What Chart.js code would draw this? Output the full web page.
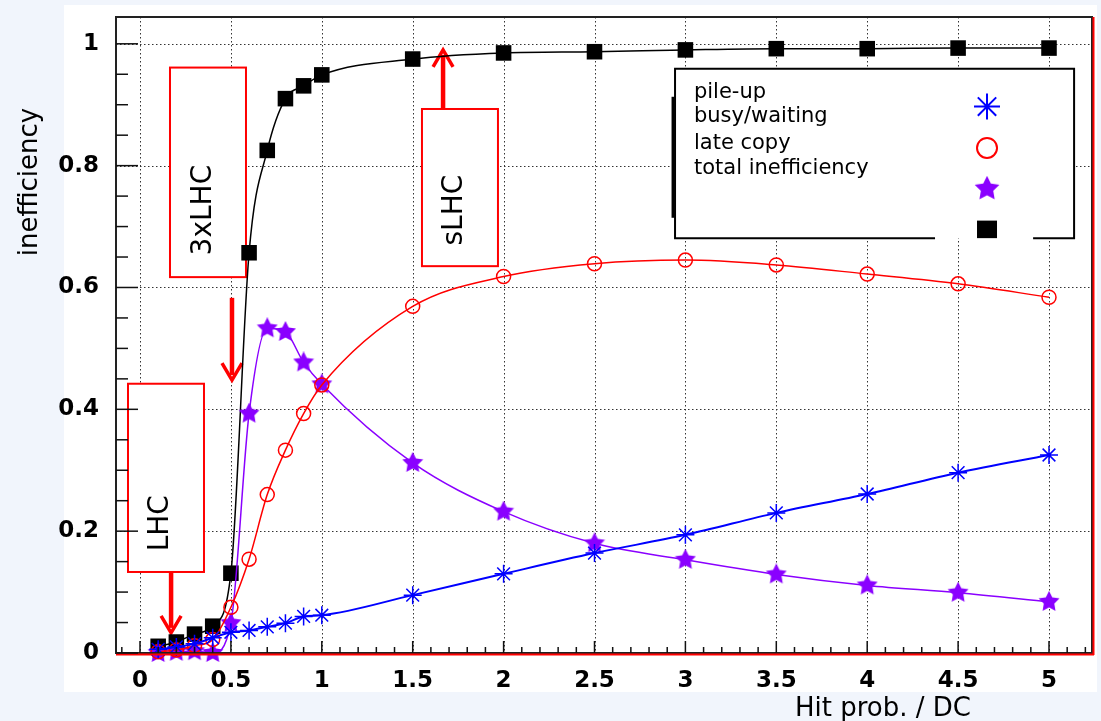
<!DOCTYPE html>
<html lang="en">
<head>
<meta charset="UTF-8">
<title>Inefficiency vs hit probability</title>
<script src="https://cdn.jsdelivr.net/npm/chart.js"></script>
<style>
  html, body { margin: 0; padding: 0; background: #f1f5fc; overflow: hidden; }
  #wrap { width: 1101px; height: 721px; }
</style>
</head>
<body>
<div id="wrap"><canvas id="ineffChart"></canvas></div>
<script>
// values
const hitProb = [0.1, 0.2, 0.3, 0.4, 0.5, 0.6, 0.7, 0.8, 0.9, 1.0, 1.5, 2, 2.5, 3, 3.5, 4, 4.5, 5];
const pileUp = [0.006, 0.010, 0.015, 0.025, 0.034, 0.037, 0.043, 0.049, 0.060, 0.062, 0.095, 0.130, 0.164, 0.194, 0.230, 0.261, 0.296, 0.325];
const busyWaiting = [0.002, 0.005, 0.012, 0.022, 0.075, 0.154, 0.260, 0.333, 0.393, 0.440, 0.569, 0.618, 0.639, 0.645, 0.637, 0.622, 0.606, 0.584];
const lateCopy = [0.0, 0.002, 0.003, 0.0, 0.049, 0.393, 0.533, 0.527, 0.477, 0.441, 0.312, 0.232, 0.180, 0.153, 0.129, 0.111, 0.099, 0.084];
const totalIneff = [0.011, 0.018, 0.031, 0.044, 0.131, 0.657, 0.825, 0.910, 0.931, 0.949, 0.975, 0.985, 0.987, 0.990, 0.992, 0.992, 0.993, 0.993];

const xTicks = [0, 0.5, 1, 1.5, 2, 2.5, 3, 3.5, 4, 4.5, 5];
const yTicks = [0, 0.2, 0.4, 0.6, 0.8, 1];
const legendLabels = ['pile-up', 'busy/waiting', 'late copy', 'total inefficiency'];
const xTitle = 'Hit prob. / DC';
const yTitle = 'inefficiency';

const BLUE = '#0000ff', RED = '#ff0000', PURPLE = '#8a00ff', BLACK = '#000000';

function makeStar(size, color) {
  const c = document.createElement('canvas');
  c.width = c.height = size;
  const g = c.getContext('2d');
  const R = size / 2, r = R * 0.5;
  g.fillStyle = color;
  g.beginPath();
  for (let i = 0; i < 10; i++) {
    const a = -Math.PI / 2 + i * Math.PI / 5;
    const rad = i % 2 ? r : R;
    g.lineTo(R + rad * Math.cos(a), R + rad * Math.sin(a));
  }
  g.closePath();
  g.fill();
  return c;
}
const starImg = makeStar(22, PURPLE);
const starImgBig = makeStar(26, PURPLE);

const pts = (ys) => hitProb.map((x, i) => ({ x: x, y: ys[i] }));

// annotation boxes, in data coordinates
const notes = [
  { label: 'LHC', box: [-0.066, 0.352, 0.442, 0.133], text: [0.154, 0.213], arrow: [0.171, 0.133, 0.033] },
  { label: '3xLHC', box: [0.165, 0.583, 0.961, 0.617], text: [0.391, 0.727], arrow: [0.506, 0.583, 0.448] },
  { label: 'sLHC', box: [1.551, 1.969, 0.893, 0.635], text: [1.771, 0.727], arrow: [1.667, 0.893, 0.990] }
];

const decor = {
  id: 'decor',
  beforeDraw(chart) {
    const ctx = chart.ctx;
    ctx.save();
    ctx.fillStyle = '#f1f5fc';
    ctx.fillRect(0, 0, chart.width, chart.height);
    ctx.fillStyle = '#ffffff';
    ctx.fillRect(64, 5, 1033, 687);
    ctx.restore();
  },
  beforeDatasetsDraw(chart) {
    const ctx = chart.ctx, xs = chart.scales.x, ys = chart.scales.y, a = chart.chartArea;
    ctx.save();
    // dotted grid
    ctx.strokeStyle = '#333';
    ctx.lineWidth = 1;
    ctx.setLineDash([1.5, 2.5]);
    xTicks.forEach(v => {
      const px = Math.round(xs.getPixelForValue(v)) + 0.5;
      ctx.beginPath(); ctx.moveTo(px, a.top); ctx.lineTo(px, a.bottom); ctx.stroke();
    });
    yTicks.forEach(v => {
      if (v === 0) return;
      const py = Math.round(ys.getPixelForValue(v)) + 0.5;
      ctx.beginPath(); ctx.moveTo(a.left, py); ctx.lineTo(a.right, py); ctx.stroke();
    });
    ctx.setLineDash([]);

    // red boxes with arrows
    notes.forEach(n => {
      const x0 = xs.getPixelForValue(n.box[0]), x1 = xs.getPixelForValue(n.box[1]);
      const y0 = ys.getPixelForValue(n.box[2]), y1 = ys.getPixelForValue(n.box[3]);
      ctx.fillStyle = '#fff';
      ctx.fillRect(x0, y0, x1 - x0, y1 - y0);
      ctx.strokeStyle = RED;
      ctx.lineWidth = 2;
      ctx.strokeRect(x0, y0, x1 - x0, y1 - y0);

      ctx.save();
      ctx.translate(xs.getPixelForValue(n.text[0]), ys.getPixelForValue(n.text[1]));
      ctx.rotate(-Math.PI / 2);
      ctx.font = '28px "DejaVu Sans"';
      ctx.fillStyle = '#000';
      ctx.textAlign = 'center';
      ctx.textBaseline = 'alphabetic';
      ctx.fillText(n.label, 0, 0);
      ctx.restore();

      const ax = xs.getPixelForValue(n.arrow[0]);
      const ay0 = ys.getPixelForValue(n.arrow[1]), ay1 = ys.getPixelForValue(n.arrow[2]);
      const dir = ay1 > ay0 ? 1 : -1;
      ctx.strokeStyle = RED;
      ctx.lineWidth = 4.5;
      ctx.beginPath(); ctx.moveTo(ax, ay0); ctx.lineTo(ax, ay1 - dir * 5); ctx.stroke();
      ctx.lineWidth = 3.5;
      ctx.beginPath();
      ctx.moveTo(ax - 10, ay1 - dir * 17);
      ctx.lineTo(ax, ay1);
      ctx.lineTo(ax + 10, ay1 - dir * 17);
      ctx.stroke();
    });
    ctx.restore();
  },
  afterDatasetsDraw(chart) {
    const ctx = chart.ctx, xs = chart.scales.x, ys = chart.scales.y, a = chart.chartArea;
    ctx.save();
    // frame
    ctx.strokeStyle = '#222';
    ctx.lineWidth = 2;
    ctx.strokeRect(a.left, a.top, a.right - a.left - 1, a.bottom - a.top);
    ctx.strokeStyle = RED;
    ctx.lineWidth = 2;
    ctx.beginPath(); ctx.moveTo(a.left, a.bottom + 1.5); ctx.lineTo(a.right + 1, a.bottom + 1.5); ctx.stroke();
    ctx.beginPath(); ctx.moveTo(a.right + 0.5, a.top); ctx.lineTo(a.right + 0.5, a.bottom + 2); ctx.stroke();

    // inside tick marks
    ctx.strokeStyle = '#111';
    ctx.lineWidth = 1.5;
    for (let i = -1; i <= 52; i++) {
      const px = xs.getPixelForValue(i / 10);
      if (px < a.left + 1 || px > a.right - 1) continue;
      const len = i % 5 === 0 ? 12 : 6;
      ctx.beginPath(); ctx.moveTo(px, a.bottom); ctx.lineTo(px, a.bottom - len); ctx.stroke();
    }
    for (let i = 0; i <= 20; i++) {
      const py = ys.getPixelForValue(i / 20);
      const len = i % 4 === 0 ? 22 : 12;
      ctx.beginPath(); ctx.moveTo(a.left, py); ctx.lineTo(a.left + len, py); ctx.stroke();
    }

    // legend
    const lx0 = xs.getPixelForValue(2.943), lx1 = xs.getPixelForValue(5.138);
    const ly0 = ys.getPixelForValue(0.959), ly1 = ys.getPixelForValue(0.681);
    ctx.fillStyle = '#fff';
    ctx.fillRect(lx0, ly0, lx1 - lx0, ly1 - ly0);
    ctx.strokeStyle = '#000';
    ctx.lineWidth = 2;
    ctx.beginPath();
    ctx.moveTo(lx0 + 260, ly1); ctx.lineTo(lx0, ly1); ctx.lineTo(lx0, ly0);
    ctx.lineTo(lx1, ly0); ctx.lineTo(lx1, ly1); ctx.lineTo(lx1 - 41, ly1);
    ctx.stroke();
    ctx.lineWidth = 3;
    ctx.beginPath(); ctx.moveTo(lx0 - 2, ly0 + 28); ctx.lineTo(lx0 - 2, ly0 + 149); ctx.stroke();

    ctx.fillStyle = '#000';
    ctx.font = '21px "DejaVu Sans"';
    ctx.textAlign = 'left';
    ctx.textBaseline = 'middle';
    const tx = xs.getPixelForValue(3.047);
    [0.920, 0.880, 0.837, 0.796].forEach((v, i) => {
      ctx.fillText(legendLabels[i], tx, ys.getPixelForValue(v));
    });

    const mx = xs.getPixelForValue(4.659);
    // asterisk
    let my = ys.getPixelForValue(0.897);
    ctx.strokeStyle = BLUE;
    ctx.lineWidth = 2;
    ctx.beginPath();
    for (let k = 0; k < 4; k++) {
      const ang = k * Math.PI / 4;
      ctx.moveTo(mx - 13 * Math.cos(ang), my - 13 * Math.sin(ang));
      ctx.lineTo(mx + 13 * Math.cos(ang), my + 13 * Math.sin(ang));
    }
    ctx.stroke();
    // open circle
    my = ys.getPixelForValue(0.829);
    ctx.strokeStyle = RED;
    ctx.beginPath(); ctx.arc(mx, my, 10, 0, Math.PI * 2); ctx.stroke();
    // star
    my = ys.getPixelForValue(0.762);
    ctx.drawImage(starImgBig, mx - 13, my - 13);
    // square
    my = ys.getPixelForValue(0.695);
    ctx.fillStyle = '#000';
    ctx.fillRect(mx - 10, my - 9, 20, ly1 - my + 9);

    // axis titles
    ctx.fillStyle = '#000';
    ctx.font = '26px "DejaVu Sans"';
    ctx.textAlign = 'center';
    ctx.textBaseline = 'alphabetic';
    ctx.fillText(xTitle, 883, 716);
    ctx.translate(37, 182);
    ctx.rotate(-Math.PI / 2);
    ctx.fillText(yTitle, 0, 0);
    ctx.restore();
  }
};

const tickFont = { family: 'DejaVu Sans', weight: 'bold', size: 23 };
const fmt = (v) => String(Math.round(v * 100) / 100);

new Chart(document.getElementById('ineffChart'), {
  type: 'scatter',
  data: {
    datasets: [
      {
        label: legendLabels[0], data: pts(pileUp),
        borderColor: BLUE, backgroundColor: BLUE, borderWidth: 2,
        pointStyle: 'star', pointRadius: 9, pointBorderWidth: 1.5
      },
      {
        label: legendLabels[1], data: pts(busyWaiting),
        borderColor: RED, backgroundColor: 'rgba(0,0,0,0)', borderWidth: 1.5,
        pointStyle: 'circle', pointRadius: 7, pointBorderWidth: 1.5
      },
      {
        label: legendLabels[2], data: pts(lateCopy),
        borderColor: PURPLE, backgroundColor: PURPLE, borderWidth: 1.5,
        pointStyle: starImg
      },
      {
        label: legendLabels[3], data: pts(totalIneff),
        borderColor: BLACK, backgroundColor: BLACK, borderWidth: 1.5,
        pointStyle: 'rect', pointRadius: 11, pointBorderWidth: 0
      }
    ]
  },
  options: {
    responsive: true,
    maintainAspectRatio: false,
    animation: false,
    devicePixelRatio: 1,
    layout: { autoPadding: false, padding: { top: 17, right: 8, left: 0, bottom: 0 } },
    datasets: {
      scatter: { showLine: true, cubicInterpolationMode: 'monotone', clip: false }
    },
    plugins: { legend: { display: false }, tooltip: { enabled: false } },
    scales: {
      x: {
        type: 'linear', min: -0.132, max: 5.242,
        grid: { display: false }, border: { display: false },
        afterBuildTicks: (s) => { s.ticks = xTicks.map(v => ({ value: v })); },
        afterFit: (s) => { s.height = 68; s.paddingLeft = 0; s.paddingRight = 0; },
        ticks: { font: tickFont, color: '#000', padding: 6, maxRotation: 0, minRotation: 0, autoSkip: false, callback: fmt }
      },
      y: {
        type: 'linear', min: 0, max: 1.044,
        grid: { display: false }, border: { display: false },
        afterBuildTicks: (s) => { s.ticks = yTicks.map(v => ({ value: v })); },
        afterFit: (s) => { s.width = 116; s.paddingTop = 0; s.paddingBottom = 0; },
        ticks: { font: tickFont, color: '#000', padding: 9, autoSkip: false, callback: fmt }
      }
    }
  },
  plugins: [decor]
});
</script>
</body>
</html>
